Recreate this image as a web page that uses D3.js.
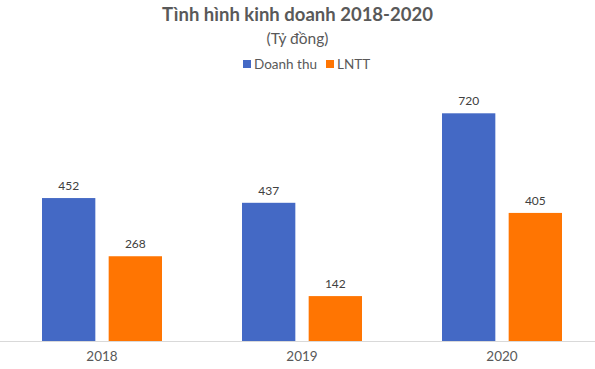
<!DOCTYPE html>
<html>
<head>
<meta charset="utf-8">
<script src="https://cdn.jsdelivr.net/npm/d3@7"></script>
<style>
  html, body { margin: 0; padding: 0; background: #fff; }
  svg { display: block; }
</style>
</head>
<body>
<svg id="chart" width="595" height="369"></svg>
<script>
const years = ["2018", "2019", "2020"];
const seriesNames = ["Doanh thu", "LNTT"];
const doanhThu = [452, 437, 720];
const lntt = [268, 142, 405];
const seriesColors = ["#4469C5", "#FF7502"];
const titleText = "Tình hình kinh doanh 2018-2020";
const subtitleText = "(Tỷ đồng)";

const seriesValues = [doanhThu, lntt];
const font = "Lato, 'Open Sans', sans-serif";

const svg = d3.select("#chart");
const W = 595, H = 369;

const x0 = d3.scaleBand().domain(years).range([2, 602]).paddingInner(0.4).paddingOuter(0.2);
const x1 = d3.scaleBand().domain(seriesNames).range([0, x0.bandwidth()]).paddingInner(0.2);
const y = d3.scaleLinear().domain([0, 800]).range([341, 88]);

// title
svg.append("text").attr("x", W / 2).attr("y", 21).attr("text-anchor", "middle")
  .attr("font-family", font).attr("font-weight", "bold").attr("font-size", 18.5)
  .attr("fill", "#595959").text(titleText);
svg.append("text").attr("x", W / 2).attr("y", 44).attr("text-anchor", "middle")
  .attr("font-family", font).attr("font-size", 15.5)
  .attr("fill", "#595959").text(subtitleText);

// legend
const legend = svg.append("g").attr("transform", "translate(243,64)");
const legendOffsets = [0, 83];
seriesNames.forEach((name, i) => {
  const g = legend.append("g").attr("transform", `translate(${legendOffsets[i]},0)`);
  g.append("rect").attr("x", 0).attr("y", -4).attr("width", 8).attr("height", 8).attr("fill", seriesColors[i]);
  g.append("text").attr("x", 11).attr("y", 0).attr("dy", "0.35em")
    .attr("font-family", font).attr("font-size", 13.5).attr("fill", "#595959").text(name);
});

// bars
const groups = svg.append("g").selectAll("g").data(years).join("g")
  .attr("transform", d => `translate(${x0(d)},0)`);

groups.each(function(yr, yi) {
  const g = d3.select(this);
  seriesNames.forEach((s, si) => {
    const v = seriesValues[si][yi];
    g.append("rect").attr("x", x1(s)).attr("y", y(v)).attr("width", x1.bandwidth())
      .attr("height", y(0) - y(v)).attr("fill", seriesColors[si]);
    g.append("text").attr("x", x1(s) + x1.bandwidth() / 2).attr("y", y(v) - 8)
      .attr("text-anchor", "middle").attr("font-family", font).attr("font-size", 12)
      .attr("fill", "#404040").text(v);
  });
});

// x axis
const axis = svg.append("g").attr("transform", `translate(0,${y(0)})`)
  .call(d3.axisBottom(x0).tickSize(0).tickPadding(10));
axis.select(".domain").attr("stroke", "#d9d9d9").attr("d", "M0,0.5H595");
axis.selectAll("text").attr("font-family", font).attr("font-size", 13.5).attr("fill", "#595959")
  .attr("dy", "0.71em");
</script>
</body>
</html>
